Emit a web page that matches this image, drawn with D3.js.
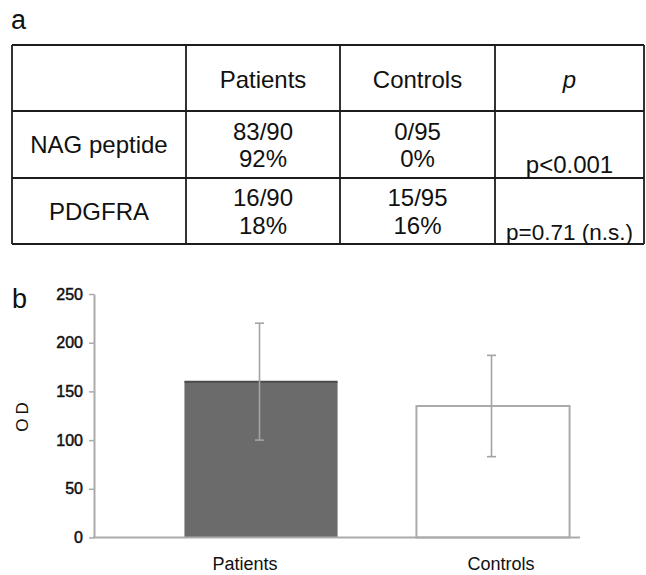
<!DOCTYPE html>
<html>
<head>
<meta charset="utf-8">
<script src="https://cdn.jsdelivr.net/npm/d3@7"></script>
<style>
  html, body { margin: 0; padding: 0; background: #fff; }
  svg { display: block; }
  text { font-family: "Liberation Sans", Arial, Helvetica, sans-serif; }
</style>
</head>
<body>
<svg id="fig" width="646" height="575"></svg>
<script>
// ---------- Data ----------
const tableHeaders = ["", "Patients", "Controls", "p"];
const rowLabels = ["NAG peptide", "PDGFRA"];
const patientsCounts = ["83/90", "16/90"];
const patientsPercents = ["92%", "18%"];
const controlsCounts = ["0/95", "15/95"];
const controlsPercents = ["0%", "16%"];
const pValues = ["p<0.001", "p=0.71 (n.s.)"];

const categories = ["Patients", "Controls"];
const meanOD = [160, 135];
const sdOD = [60, 52];
const yTicks = [0, 50, 100, 150, 200, 250];

// ---------- Setup ----------
const svg = d3.select("#fig");

// Panel letters
svg.append("text").attr("x", 11).attr("y", 29).attr("font-size", 27).attr("fill", "#111").text("a");
svg.append("text").attr("x", 12).attr("y", 308).attr("font-size", 27).attr("fill", "#111").text("b");

// ---------- Panel a: table ----------
const colEdges = [12, 186, 340, 495, 644];
const rowEdges = [45, 111, 178, 244];
const colX = d3.scaleOrdinal().domain(d3.range(4)).range(d3.range(4).map(i => (colEdges[i] + colEdges[i + 1]) / 2));

const tbl = svg.append("g");
colEdges.forEach(x => tbl.append("line")
  .attr("x1", x).attr("x2", x).attr("y1", rowEdges[0]).attr("y2", rowEdges[rowEdges.length - 1])
  .attr("stroke", "#1c1c1c").attr("stroke-width", 1.8));
rowEdges.forEach(y => tbl.append("line")
  .attr("x1", colEdges[0]).attr("x2", colEdges[colEdges.length - 1]).attr("y1", y).attr("y2", y)
  .attr("stroke", "#1c1c1c").attr("stroke-width", 1.8));

function cellText(x, y, t, opts = {}) {
  tbl.append("text")
    .attr("x", x).attr("y", y)
    .attr("text-anchor", "middle")
    .attr("font-size", opts.size || 24)
    .attr("font-style", opts.italic ? "italic" : "normal")
    .attr("fill", "#111")
    .text(t);
}

tableHeaders.forEach((h, i) => { if (h) cellText(colX(i), 88, h, { italic: h === "p" }); });

const rowBase = [[153, 139.5, 167, 173], [220, 206, 234, 240]];
rowLabels.forEach((lab, r) => {
  const b = rowBase[r];
  cellText(colX(0), b[0], lab);
  cellText(colX(1), b[1], patientsCounts[r]);
  cellText(colX(1), b[2], patientsPercents[r]);
  cellText(colX(2), b[1], controlsCounts[r]);
  cellText(colX(2), b[2], controlsPercents[r]);
  cellText(colX(3), b[3], pValues[r], { size: r === 1 ? 22.5 : 24 });
});

// ---------- Panel b: bar chart ----------
const axisColor = "#ababab";
const y = d3.scaleLinear().domain([0, 250]).range([537.5, 294]);
const x = d3.scaleBand().domain(categories).range([145, 609]).paddingInner(0.34).paddingOuter(0.17);
const xAxisStart = 94, xAxisEnd = 580;

const chart = svg.append("g");

const barFill = ["#6b6b6b", "#ffffff"];
categories.forEach((c, i) => {
  chart.append("rect")
    .attr("x", x(c)).attr("y", y(meanOD[i]))
    .attr("width", x.bandwidth()).attr("height", y(0) - y(meanOD[i]))
    .attr("fill", barFill[i])
    .attr("stroke", i === 0 ? "none" : axisColor).attr("stroke-width", 2);
  if (i === 0) {
    chart.append("line")
      .attr("x1", x(c)).attr("x2", x(c) + x.bandwidth())
      .attr("y1", y(meanOD[i])).attr("y2", y(meanOD[i]))
      .attr("stroke", "#4a4a4a").attr("stroke-width", 2);
  }
});

const errColor = "#a3a3a3";
categories.forEach((c, i) => {
  const cx = x(c) + x.bandwidth() / 2 - 1.5;
  const lo = y(meanOD[i] - sdOD[i]), hi = y(meanOD[i] + sdOD[i]);
  chart.append("line").attr("x1", cx).attr("x2", cx).attr("y1", hi).attr("y2", lo)
    .attr("stroke", errColor).attr("stroke-width", 1.6);
  [hi, lo].forEach(v => chart.append("line")
    .attr("x1", cx - 4.5).attr("x2", cx + 4.5).attr("y1", v).attr("y2", v)
    .attr("stroke", errColor).attr("stroke-width", 1.6));
});

const yAxis = chart.append("g").attr("transform", `translate(${xAxisStart},0)`)
  .call(d3.axisLeft(y).tickValues(yTicks).tickSize(5).tickPadding(6).tickSizeOuter(0));
yAxis.select(".domain").attr("stroke", axisColor).attr("stroke-width", 2);
yAxis.selectAll(".tick line").attr("stroke", axisColor).attr("stroke-width", 1.5);
yAxis.selectAll(".tick text")
  .style("font-size", "16px").attr("fill", "#111")
  .attr("stroke", "#111").attr("stroke-width", 0.5);

chart.append("line").attr("x1", xAxisStart - 1).attr("x2", xAxisEnd)
  .attr("y1", y(0)).attr("y2", y(0)).attr("stroke", axisColor).attr("stroke-width", 2);

const labelShift = [-16, 8];
categories.forEach((c, i) => {
  chart.append("text")
    .attr("x", x(c) + x.bandwidth() / 2 + labelShift[i]).attr("y", 570)
    .attr("text-anchor", "middle").style("font-size", "18px").attr("fill", "#111")
    .text(c);
});

chart.append("text")
  .attr("transform", "translate(28,415) rotate(-90)")
  .attr("text-anchor", "middle").style("font-size", "17px").attr("letter-spacing", 4)
  .attr("fill", "#111").text("OD");
</script>
</body>
</html>
